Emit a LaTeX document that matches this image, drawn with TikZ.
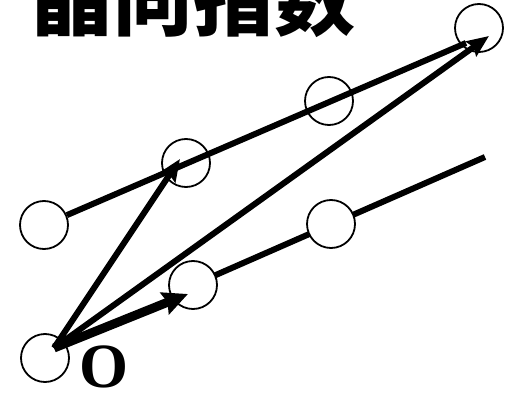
\documentclass[tikz,border=0pt]{standalone}
\usepackage{fontspec}
\newfontfamily\cjk{Noto Sans CJK SC}
\setmainfont{Liberation Serif}
\usetikzlibrary{arrows.meta}
\tikzset{
  site/.style={circle,draw=black,fill=white,line width=1.8pt,minimum size=48pt,inner sep=0pt},
  rowline/.style={line width=6pt},
  vec/.style={line width=6pt,-{Stealth[length=22pt,width=18pt,inset=3pt]}},
  vecthick/.style={line width=9pt,-{Stealth[length=25pt,width=23pt,inset=3pt]}},
}
\begin{document}
\begin{tikzpicture}[x=1pt,y=-1pt]
\useasboundingbox (0,0) rectangle (505,395);
% title
\node[anchor=base west,inner sep=0pt,font=\cjk\bfseries\fontsize{81}{81}\selectfont] (title) at (31,30) {晶向指数};
% lower row line (under the circles)
\coordinate (c5p) at (193,285);
\coordinate (le) at (485,157);
\draw[rowline] (c5p) -- (le);
% sites
\node[site] (cO) at (45,358) {};
\node[site] (cL) at (44,225) {};
\node[site] (c2) at (186,163) {};
\node[site] (c3) at (329,101) {};
\node[site] (c4) at (479,28) {};
\node[site] (c5) at (193,285) {};
\node[site] (c6) at (331,224) {};
% upper row line
\coordinate (ue) at (466,43);
\draw[rowline] (cL) -- (ue);
% vectors from origin
\coordinate (o) at (54,348);
\coordinate (t1) at (180,159);
\coordinate (t2) at (489,36);
\coordinate (t3) at (188,294);
\draw[vec] (o) -- (t1);
\draw[vec] (o) -- (t2);
\draw[vecthick] (o) -- (t3);
% origin label
\node[font=\bfseries\fontsize{63}{63}\selectfont,inner sep=0pt] (lab) at (104,367) {O};
\end{tikzpicture}
\end{document}
